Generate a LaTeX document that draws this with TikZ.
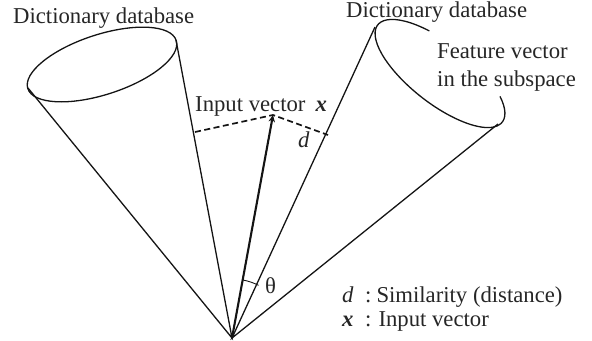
\documentclass[tikz,border=0pt]{standalone}
\usepackage{fontspec}
\usetikzlibrary{arrows.meta}
\setmainfont{Liberation Serif}
\begin{document}
\begin{tikzpicture}[x=1bp,y=1bp,
  line/.style={line width=1.3bp,black!92},
  vec/.style={line width=2.1bp,black!92,-{Stealth[length=7bp,width=6.5bp]}},
  dist/.style={line width=1.7bp,black!92,dash pattern=on 6bp off 3.5bp},
  lab/.style={inner sep=0pt,font=\fontsize{22.7bp}{24bp}\selectfont,text=black!85,anchor=base west}]
\useasboundingbox (0,0) rectangle (592,340);
\coordinate (apex) at (232,2);
\coordinate (la) at (28,252);
\coordinate (lb) at (176,300);
\coordinate (ra) at (375,313);
\coordinate (rb) at (498,216);
\coordinate (tip) at (273,225);
\coordinate (fl) at (195,208);
\coordinate (fr) at (328,205);
\draw[line] (102,275.5) ellipse [x radius=78,y radius=30,rotate=18];
\draw[line,rotate around={-38:(440,266.5)}] (440,266.5) ++(116:79 and 30) arc[start angle=116,end angle=399,x radius=79,y radius=30];
\draw[line] (la) -- (apex) -- (lb);
\draw[line] (ra) -- (apex) -- (rb);
\draw[vec] (apex) -- (tip);
\draw[dist] (fl) -- (tip) -- (fr);
\draw[line,line width=0.9bp] (243,60) arc[start angle=79,end angle=63,radius=59];
\node[lab] (d1) at (13,317) {Dictionary database};
\node[lab] (d2) at (346,323) {Dictionary database};
\node[lab] (f1) at (437,282) {Feature vector};
\node[lab] (f2) at (437,254) {in the subspace};
\node[lab] (iv) at (195,229) {Input vector\hspace{10bp}\textbf{\textit{x}}};
\node[lab] (dd) at (298,193) {\textit{d}};
\node[lab] (th) at (265,47) {θ};
\node[lab] (l1) at (342,38) {\makebox[23bp][l]{\textit{d}}:\hspace{5bp}Similarity (distance)};
\node[lab] (l2) at (342,14) {\makebox[23bp][l]{\textbf{\textit{x}}}:\hspace{7bp}Input vector};
\end{tikzpicture}
\end{document}
